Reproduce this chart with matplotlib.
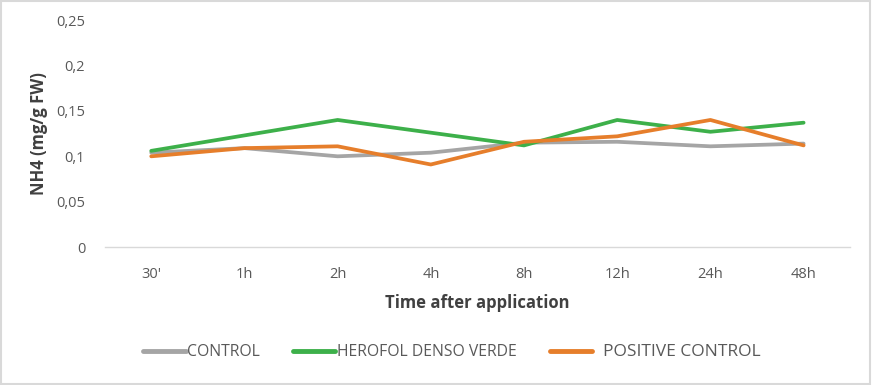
import matplotlib
matplotlib.use("Agg")
import matplotlib.pyplot as plt
from matplotlib.lines import Line2D
from matplotlib.patches import Rectangle

categories = ["30'", "1h", "2h", "4h", "8h", "12h", "24h", "48h"]
control = [0.104, 0.109, 0.100, 0.104, 0.115, 0.116, 0.111, 0.114]
herofol = [0.106, 0.123, 0.140, 0.126, 0.112, 0.140, 0.127, 0.137]
positive = [0.100, 0.109, 0.111, 0.091, 0.116, 0.122, 0.140, 0.112]
yticks = [0, 0.05, 0.1, 0.15, 0.2, 0.25]
ytick_labels = ["0", "0,05", "0,1", "0,15", "0,2", "0,25"]

plt.rcParams['font.family'] = ['Open Sans', 'DejaVu Sans']

fig = plt.figure(figsize=(8.72, 3.85), dpi=100)
ax = fig.add_axes([0.120, 0.358, 0.855, 0.590])

x = list(range(len(categories)))
c_gray, c_green, c_orange = "#A5A5A5", "#3DB04A", "#E67E2B"
ax.plot(x, control, color=c_gray, lw=2.7, solid_capstyle='round')
ax.plot(x, herofol, color=c_green, lw=2.7, solid_capstyle='round')
ax.plot(x, positive, color=c_orange, lw=2.7, solid_capstyle='round')

ax.set_xlim(-0.5, len(categories) - 0.5)
ax.set_ylim(0, 0.25)
ax.set_xticks(x)
ax.set_xticklabels(categories)
ax.set_yticks(yticks)
ax.set_yticklabels(ytick_labels)
for s in ["top", "right", "left"]:
    ax.spines[s].set_visible(False)
ax.spines["bottom"].set_color("#D9D9D9")
ax.spines["bottom"].set_linewidth(1.0)
ax.tick_params(axis='both', length=0, labelsize=10.5, labelcolor="#595959")
ax.tick_params(axis='x', pad=14)
ax.tick_params(axis='y', pad=14)

ax.set_xlabel("Time after application", fontsize=12, fontweight='bold', color="#404040", labelpad=9)
ax.set_ylabel("NH4 (mg/g FW)", fontsize=12, fontweight='bold', color="#404040", labelpad=6)

handles = [Line2D([], [], color=c_gray, lw=3.5, solid_capstyle='round'),
           Line2D([], [], color=c_green, lw=3.5, solid_capstyle='round'),
           Line2D([], [], color=c_orange, lw=3.5, solid_capstyle='round')]
labels = ["CONTROL", "HEROFOL DENSO VERDE", "  POSITIVE CONTROL"]
leg = fig.legend(handles, labels, loc='center', bbox_to_anchor=(0.518, 0.085), ncol=3,
                 frameon=False, fontsize=11.3, handlelength=2.7, handletextpad=0.1,
                 columnspacing=2.1)
for t in leg.get_texts():
    t.set_color("#595959")
leg.get_texts()[2].set_fontsize(12.5)

fig.patches.append(Rectangle((0.001, 0.003), 0.997, 0.994, transform=fig.transFigure,
                             fill=False, edgecolor="#D9D9D9", lw=1.5))

fig.savefig("out.png", dpi=100, facecolor="white")
